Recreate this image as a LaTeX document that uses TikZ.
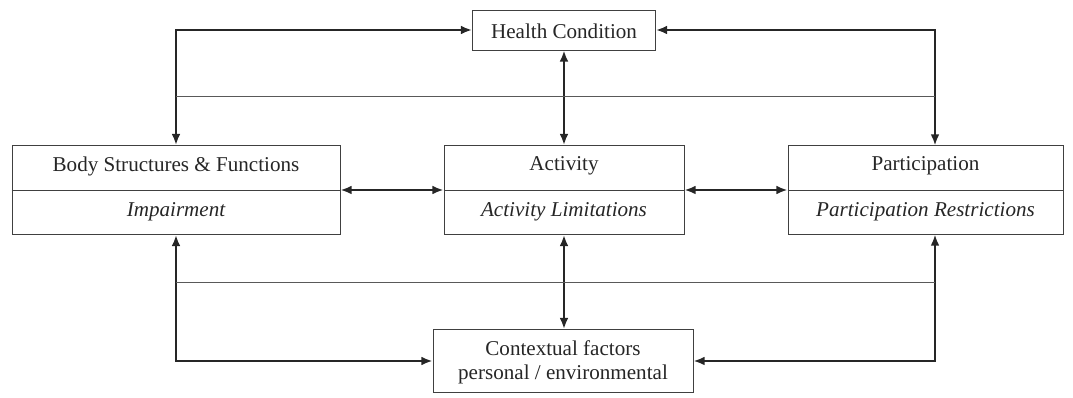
\documentclass[tikz,border=0pt]{standalone}
\usepackage{fontspec}
\setmainfont{Liberation Serif}
\usetikzlibrary{arrows.meta}
\begin{document}
\begin{tikzpicture}[x=0.025cm,y=-0.025cm,
  box/.style={draw=black!75, line width=0.6pt, inner sep=0pt},
  lbl/.style={text=black!85, font=\fontsize{15}{17}\selectfont, inner sep=0pt},
  arr/.style={draw=black!85, line width=1.5pt, {Latex[length=2.8mm,width=2.2mm]}-{Latex[length=2.8mm,width=2.2mm]}},
  hline/.style={draw=black!65, line width=0.7pt}]
\useasboundingbox (0,0) rectangle (1073,398);
% boxes
\node[box, minimum width=4.575cm, minimum height=1cm] (hc) at (564,30) {};
\node[lbl] (hct) at (564,31) {Health Condition};
\node[box, minimum width=8.2cm, minimum height=2.225cm] (body) at (176,190) {};
\node[box, minimum width=6cm, minimum height=2.225cm] (act) at (564,190) {};
\node[box, minimum width=6.875cm, minimum height=2.225cm] (part) at (925.5,190) {};
\draw[box] (body.west) -- (body.east);
\draw[box] (act.west) -- (act.east);
\draw[box] (part.west) -- (part.east);
\node[lbl] (bodyt) at (176,166) {Body Structures \& Functions};
\node[lbl] (bodyi) at (176,212) {\itshape Impairment};
\node[lbl] (actt) at (564,166) {Activity};
\node[lbl] (acti) at (564,212) {\itshape Activity Limitations};
\node[lbl] (partt) at (925.5,166) {Participation};
\node[lbl] (parti) at (925.5,212) {\itshape Participation Restrictions};
\node[box, minimum width=6.5cm, minimum height=1.575cm] (ctx) at (563,361) {};
\node[lbl, align=center] (ctxt) at (563,362) {Contextual factors\\personal / environmental};
% coordinates
\coordinate (ptop) at (935,145.5);
\coordinate (pbot) at (935,234.5);
\coordinate (l1a) at (176,96);
\coordinate (l1b) at (935,96);
\coordinate (l2a) at (176,282);
\coordinate (l2b) at (935,282);
% connectors
\draw[arr] (hc.west) -| (body.north);
\draw[arr] (hc.east) -| (ptop);
\draw[arr] (hc.south) -- (hc.south |- act.north);
\draw[hline] (l1a) -- (l1b);
\draw[arr] (body.east) -- (act.west);
\draw[arr] (act.east) -- (part.west);
\draw[arr] (body.south) |- (ctx.west);
\draw[arr] (pbot) |- (ctx.east);
\draw[arr] (act.south) -- (act.south |- ctx.north);
\draw[hline] (l2a) -- (l2b);
\end{tikzpicture}
\end{document}
